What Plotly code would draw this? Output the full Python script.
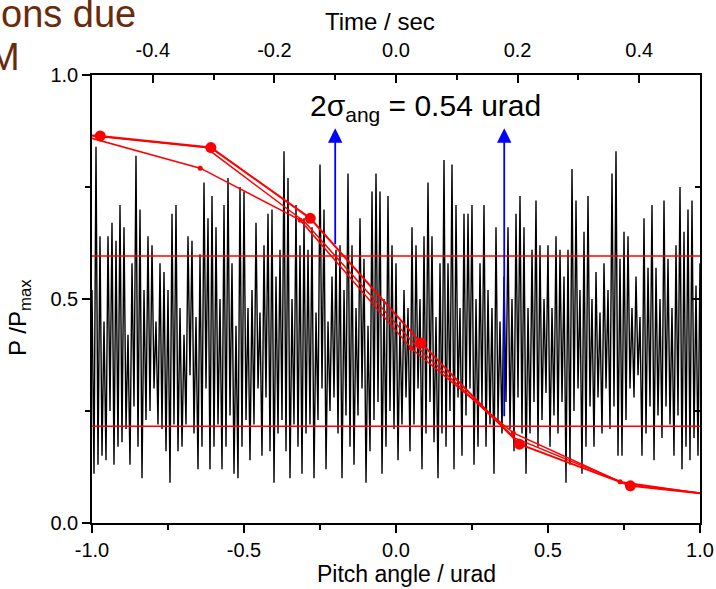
import numpy as np
import plotly.graph_objects as go

# ---- tick labels ----
pitch_ticks = [-1.0, -0.5, 0.0, 0.5, 1.0]
pitch_ticktext = ["-1.0", "-0.5", "0.0", "0.5", "1.0"]
pitch_minor = [-0.75, -0.25, 0.25, 0.75]
time_ticks = [-0.4, -0.2, 0.0, 0.2, 0.4]
time_ticktext = ["-0.4", "-0.2", "0.0", "0.2", "0.4"]
time_minor = [-0.3, -0.1, 0.1, 0.3]
p_ticks = [0.0, 0.5, 1.0]
p_ticktext = ["0.0", "0.5", "1.0"]
p_minor = [0.25, 0.75]

noise_peaks = [
    0.52, 0.84, 0.64, 0.45, 0.64, 0.67, 0.63, 0.71, 0.66, 0.42,
    0.58, 0.82, 0.70, 0.52, 0.64, 0.62, 0.45, 0.58, 0.56, 0.52,
    0.69, 0.71, 0.48, 0.42, 0.64, 0.63, 0.46, 0.60, 0.76, 0.68,
    0.73, 0.66, 0.50, 0.71, 0.77, 0.58, 0.44, 0.75, 0.74, 0.48,
    0.52, 0.67, 0.47, 0.62, 0.69, 0.70, 0.55, 0.61, 0.83, 0.77,
    0.50, 0.71, 0.62, 0.68, 0.61, 0.66, 0.47, 0.80, 0.70, 0.45,
    0.55, 0.61, 0.62, 0.52, 0.78, 0.62, 0.48, 0.68, 0.59, 0.44,
    0.74, 0.78, 0.74, 0.50, 0.73, 0.62, 0.58, 0.45, 0.52, 0.48,
    0.66, 0.62, 0.50, 0.64, 0.76, 0.64, 0.46, 0.58, 0.81, 0.58,
    0.80, 0.71, 0.48, 0.69, 0.69, 0.71, 0.50, 0.58, 0.71, 0.52,
    0.48, 0.66, 0.45, 0.55, 0.66, 0.50, 0.69, 0.73, 0.66, 0.48,
    0.61, 0.72, 0.62, 0.50, 0.62, 0.48, 0.64, 0.61, 0.55, 0.61,
    0.79, 0.72, 0.52, 0.65, 0.73, 0.50, 0.56, 0.47, 0.58, 0.52,
    0.78, 0.83, 0.59, 0.65, 0.64, 0.48, 0.55, 0.46, 0.68, 0.57,
    0.71, 0.57, 0.50, 0.72, 0.59, 0.48, 0.62, 0.75, 0.65, 0.70,
    0.72, 0.53, 0.58,
]
noise_troughs = [
    0.11, 0.13, 0.15, 0.14, 0.25, 0.13, 0.17, 0.18, 0.21, 0.13,
    0.26, 0.17, 0.10, 0.23, 0.25, 0.30, 0.22, 0.21, 0.16, 0.09,
    0.22, 0.16, 0.17, 0.22, 0.33, 0.20, 0.12, 0.17, 0.30, 0.12,
    0.17, 0.22, 0.12, 0.17, 0.24, 0.11, 0.10, 0.17, 0.23, 0.14,
    0.22, 0.30, 0.15, 0.28, 0.16, 0.09, 0.20, 0.23, 0.16, 0.10,
    0.22, 0.17, 0.11, 0.20, 0.22, 0.10, 0.23, 0.30, 0.12, 0.25,
    0.28, 0.20, 0.10, 0.24, 0.17, 0.13, 0.24, 0.30, 0.09, 0.16,
    0.23, 0.27, 0.11, 0.17, 0.25, 0.21, 0.14, 0.22, 0.28, 0.16,
    0.22, 0.30, 0.12, 0.20, 0.27, 0.18, 0.10, 0.20, 0.17, 0.25,
    0.12, 0.28, 0.15, 0.24, 0.30, 0.13, 0.17, 0.26, 0.17, 0.22,
    0.11, 0.23, 0.20, 0.27, 0.21, 0.16, 0.28, 0.20, 0.11, 0.20,
    0.27, 0.17, 0.23, 0.29, 0.17, 0.24, 0.20, 0.27, 0.09, 0.13,
    0.25, 0.30, 0.11, 0.17, 0.26, 0.17, 0.28, 0.20, 0.30, 0.21,
    0.26, 0.15, 0.15, 0.23, 0.30, 0.28, 0.33, 0.15, 0.20, 0.26,
    0.14, 0.24, 0.19, 0.26, 0.22, 0.15, 0.24, 0.12, 0.17, 0.14,
    0.19, 0.15,
]
signal = []
for pk, tr in zip(noise_peaks, noise_troughs):
    signal += [pk, tr]
signal.append(noise_peaks[-1])
signal_x = np.linspace(-1.0, 1.0, len(signal))

# ---- angular response curves (red) ----
curve1_x = [-1.04, -0.973, -0.609, -0.282, 0.082, 0.406, 0.771, 1.12]
curve1_y = [0.867, 0.864, 0.838, 0.680, 0.402, 0.176, 0.083, 0.058]
curve2_x = [-1.02, -0.626, -0.300, 0.066, 0.390, 0.755, 1.10]
curve2_y = [0.866, 0.838, 0.672, 0.395, 0.190, 0.088, 0.058]
curve3_x = [-1.008, -0.644, -0.315, 0.050, 0.386, 0.737, 1.09]
curve3_y = [0.860, 0.792, 0.676, 0.390, 0.201, 0.092, 0.058]

# ---- thresholds and arrows ----
threshold_levels = [0.596, 0.216]
arrow_x = [-0.200, 0.356]
arrow_y_from = [0.600, 0.216]
arrow_y_to = [0.881, 0.881]

RED = "#ff0000"
FONT = "Arial, Liberation Sans, sans-serif"

fig = go.Figure()
fig.add_trace(go.Scatter(x=signal_x, y=signal, mode="lines",
                         line=dict(color="black", width=1.4), showlegend=False))
fig.add_trace(go.Scatter(x=curve3_x, y=curve3_y, mode="lines+markers",
                         line=dict(color=RED, width=1.5),
                         marker=dict(color=RED, size=5), showlegend=False))
fig.add_trace(go.Scatter(x=curve2_x, y=curve2_y, mode="lines",
                         line=dict(color=RED, width=1.5), showlegend=False))
fig.add_trace(go.Scatter(x=curve1_x, y=curve1_y, mode="lines+markers",
                         line=dict(color=RED, width=2),
                         marker=dict(color=RED, size=11), showlegend=False))
# empty trace to carry the secondary (top / right) axes
fig.add_trace(go.Scatter(x=[], y=[], xaxis="x2", yaxis="y2", showlegend=False))

for lvl in threshold_levels:
    fig.add_shape(type="line", xref="x", yref="y", x0=-1, x1=1, y0=lvl, y1=lvl,
                  line=dict(color=RED, width=1.5), layer="above")

for ax_, y0, y1 in zip(arrow_x, arrow_y_from, arrow_y_to):
    fig.add_annotation(x=ax_, y=y1, ax=ax_, ay=y0, xref="x", yref="y",
                       axref="x", ayref="y", text=" ", showarrow=True,
                       arrowhead=2, arrowsize=1.6, arrowwidth=1.8,
                       arrowcolor="#0000ff")

fig.add_annotation(x=-0.289, y=0.928, xref="x", yref="y", xanchor="left",
                   yanchor="middle", showarrow=False,
                   text="2σ<sub>ang</sub> = 0.54 urad",
                   font=dict(family=FONT, size=30, color="black"))

# axis titles
fig.add_annotation(x=(380 - 92) / 608, y=(523 - 21) / 448, xref="paper", yref="paper",
                   xanchor="center", yanchor="middle", showarrow=False,
                   text="Time / sec", font=dict(family=FONT, size=24, color="black"))
fig.add_annotation(x=(406 - 92) / 608, y=(523 - 574) / 448, xref="paper", yref="paper",
                   xanchor="center", yanchor="middle", showarrow=False,
                   text="Pitch angle / urad", font=dict(family=FONT, size=23, color="black"))
fig.add_annotation(x=(19 - 92) / 608, y=(523 - 318) / 448, xref="paper", yref="paper",
                   xanchor="center", yanchor="middle", showarrow=False,
                   textangle=-90, text="P /P<sub>max</sub>",
                   font=dict(family=FONT, size=24, color="black"))

# cropped slide text (top-left)
BROWN = "#6a2b0c"
fig.add_annotation(x=-0.153, y=1.136, xref="paper", yref="paper", xanchor="left",
                   yanchor="middle", showarrow=False, text="ons due",
                   font=dict(family=FONT, size=38, color=BROWN))
fig.add_annotation(x=-0.174, y=1.04, xref="paper", yref="paper", xanchor="left",
                   yanchor="middle", showarrow=False, text="M",
                   font=dict(family=FONT, size=38, color=BROWN))

axis_common = dict(showgrid=False, zeroline=False, showline=True, automargin=False,
                   linecolor="black", linewidth=1.5, tickcolor="black",
                   tickwidth=1.5, tickfont=dict(family=FONT, size=20, color="black"))

fig.update_layout(
    width=716, height=589, autosize=False, showlegend=False,
    margin=dict(l=92, r=16, t=75, b=66, pad=0),
    paper_bgcolor="white", plot_bgcolor="white",
    xaxis=dict(range=[-1, 1], tickmode="array", tickvals=pitch_ticks,
               ticktext=pitch_ticktext, ticks="outside", ticklen=8,
               minor=dict(tickmode="array", tickvals=pitch_minor, ticks="outside",
                          ticklen=5, tickcolor="black", tickwidth=1.5),
               **axis_common),
    yaxis=dict(range=[0, 1], tickmode="array", tickvals=p_ticks,
               ticktext=p_ticktext, ticks="outside", ticklen=8,
               minor=dict(tickmode="array", tickvals=p_minor, ticks="outside",
                          ticklen=5, tickcolor="black", tickwidth=1.5),
               **axis_common),
    xaxis2=dict(range=[-0.5, 0.5], overlaying="x", side="top", anchor="y",
                tickmode="array", tickvals=time_ticks, ticktext=time_ticktext,
                ticks="inside", ticklen=8, ticklabelstandoff=8,
                minor=dict(tickmode="array", tickvals=time_minor, ticks="inside",
                           ticklen=5, tickcolor="black", tickwidth=1.5),
                **axis_common),
    yaxis2=dict(range=[0, 1], overlaying="y", side="right", anchor="x",
                tickmode="array", tickvals=p_ticks, ticks="inside", ticklen=8,
                showticklabels=False,
                minor=dict(tickmode="array", tickvals=p_minor, ticks="inside",
                           ticklen=5, tickcolor="black", tickwidth=1.5),
                **axis_common),
)

fig.write_html("out.html")
